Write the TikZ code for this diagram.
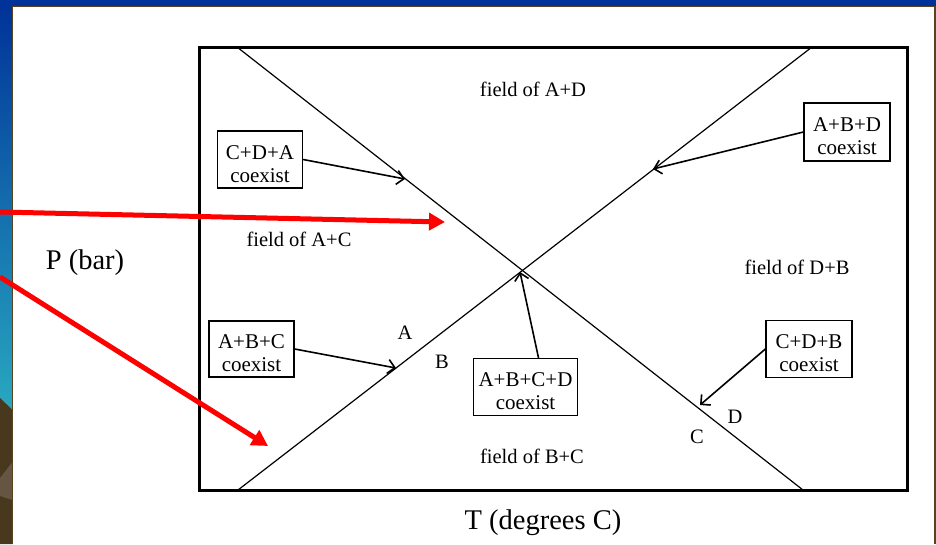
\documentclass[tikz,border=0pt]{standalone}
\usepackage{fontspec}
\setmainfont{Liberation Serif}
\usetikzlibrary{arrows.meta}
\definecolor{slideblue}{RGB}{0,51,153}
\definecolor{stripteal}{RGB}{40,168,192}
\definecolor{stripbrown}{RGB}{72,56,30}
\definecolor{stripbrownlight}{RGB}{100,86,66}
\definecolor{edgebrown}{RGB}{90,66,32}
\definecolor{pointred}{RGB}{255,0,0}
\newcommand{\boxtop}{\rule{0pt}{23pt}}
\tikzset{
  lbl/.style={font=\fontsize{20.5}{23}\selectfont, inner sep=0pt},
  axislbl/.style={font=\fontsize{28.5}{32}\selectfont, inner sep=0pt},
  coexbox/.style={draw, line width=1.3pt, font=\fontsize{21}{23}\selectfont, align=center, inner sep=0pt},
  ptr/.style={line width=1.6pt, -{Straight Barb[length=7pt,width=14pt,line width=1.6pt]}},
  redptr/.style={draw=pointred, line width=5pt, -{Triangle[length=16pt,width=17pt]}, fill=pointred},
  frame/.style={line width=3pt},
  phase/.style={line width=1.2pt}
}
\begin{document}
\begin{tikzpicture}[x=1pt,y=-1pt]
\useasboundingbox (0,0) rectangle (936,544);
% slide background
\fill[white] (0,0) rectangle (936,544);
\fill[slideblue] (0,0) rectangle (936,6);
\shade[top color=slideblue, bottom color=stripteal] (0,6) rectangle (12.5,410);
\fill[stripbrown] (0,398) -- (12.5,410) -- (12.5,544) -- (0,544) -- cycle;
\fill[stripbrownlight] (0,478) -- (12.5,462) -- (12.5,500) -- (0,496) -- cycle;
\draw[edgebrown, line width=1.2pt] (12.5,544) -- (12.5,6.5) -- (935,6.5) -- (935,544);

% frame
\draw[frame] (199.5,47) rectangle (907,490);
% phase boundaries
\coordinate (l1a) at (237,47);
\coordinate (l1b) at (803,490);
\coordinate (l2a) at (238,490);
\coordinate (l2b) at (812,47);
\draw[phase] (l1a) -- (l1b);
\draw[phase] (l2a) -- (l2b);

% field labels
\node[lbl] (fad) at (533,89) {field of A+D};
\node[lbl] (fac) at (299,239) {field of A+C};
\node[lbl] (fdb) at (797,267) {field of D+B};
\node[lbl] (fbc) at (532,456) {field of B+C};

% phase letters
\node[lbl] (la) at (405,333) {A};
\node[lbl] (lb) at (442,362) {B};
\node[lbl] (ld) at (735,417) {D};
\node[lbl] (lc) at (697,437) {C};

% axis labels
\node[axislbl] (plab) at (85,263) {P (bar)};
\node[axislbl] (tlab) at (543,523) {T (degrees C)};

% coexist boxes
\node[coexbox, minimum width=85pt, minimum height=57pt] (cda) at (260,159.5) {\boxtop C+D+A\\coexist};
\node[coexbox, minimum width=86pt, minimum height=58pt] (abd) at (847,132) {\boxtop A+B+D\\coexist};
\node[coexbox, minimum width=85pt, minimum height=56pt] (abc) at (251.5,349) {\boxtop A+B+C\\coexist};
\node[coexbox, minimum width=104pt, minimum height=57pt] (abcd) at (525.5,387) {\boxtop A+B+C+D\\coexist};
\node[coexbox, minimum width=86pt, minimum height=57pt] (cdb) at (809,349) {\boxtop C+D+B\\coexist};

% tips of black pointers
\coordinate (tcda) at (405,179);
\coordinate (tabd) at (653,169);
\coordinate (tabc) at (396,368);
\coordinate (tabcd) at (520,272);
\coordinate (tcdb) at (700,405);
\draw[ptr] (cda.east) -- (tcda);
\draw[ptr] (abd.west) -- (tabd);
\draw[ptr] (abc.east) -- (tabc);
\draw[ptr] ([xshift=13pt]abcd.north) -- (tabcd);
\draw[ptr] (cdb.west) -- (tcdb);

% red pointers
\coordinate (r1s) at (0,212);
\coordinate (r1e) at (445,222);
\coordinate (r2s) at (0,277);
\coordinate (r2e) at (268,446);
\draw[redptr] (r1s) -- (r1e);
\draw[redptr] (r2s) -- (r2e);
\end{tikzpicture}
\end{document}
